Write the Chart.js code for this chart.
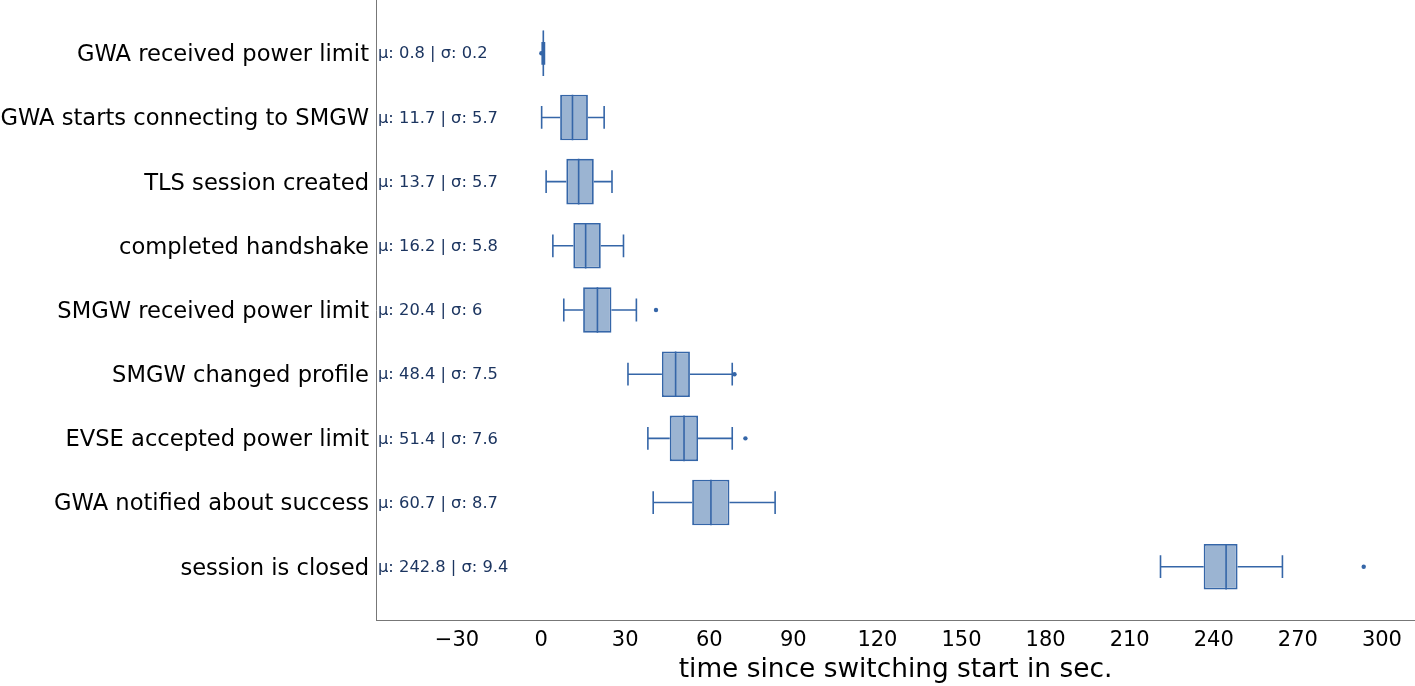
<!DOCTYPE html>
<html>
<head>
<meta charset="utf-8">
<script src="https://cdn.jsdelivr.net/npm/chart.js@4"></script>
<style>
  body { margin: 0; background: #fff; }
</style>
</head>
<body>
<canvas id="boxes" width="1415" height="686"></canvas>
<script>
// step names, top to bottom
const steps = [
  'GWA received power limit',
  'GWA starts connecting to SMGW',
  'TLS session created',
  'completed handshake',
  'SMGW received power limit',
  'SMGW changed profile',
  'EVSE accepted power limit',
  'GWA notified about success',
  'session is closed'
];
// box plot numbers (seconds)
const whiskerLow  = [0.4, 0.2, 1.8, 4.2, 8.1, 31.0, 38.1, 40.0, 221.0];
const q1          = [0.6, 6.8, 9.0, 11.5, 15.0, 43.1, 45.9, 53.9, 236.4];
const median      = [0.8, 11.2, 13.4, 15.9, 20.1, 48.0, 51.0, 60.6, 244.4];
const q3          = [1.0, 16.7, 18.8, 21.3, 25.1, 53.1, 56.0, 67.2, 248.5];
const whiskerHigh = [1.2, 22.5, 25.3, 29.4, 34.0, 68.2, 68.2, 83.5, 264.5];
const outliers    = [[0.1], [], [], [], [41.0], [69.0], [72.9], [], [293.5]];
const means       = [0.8, 11.7, 13.7, 16.2, 20.4, 48.4, 51.4, 60.7, 242.8];
const sigmas      = [0.2, 5.7, 5.7, 5.8, 6, 7.5, 7.6, 8.7, 9.4];
const xTicks      = [-30, 0, 30, 60, 90, 120, 150, 180, 210, 240, 270, 300];

const edge = '#3566a8';
const font = 'DejaVu Sans';

// whiskers, caps, medians, outliers and the μ/σ notes
const boxExtras = {
  id: 'boxExtras',
  afterDatasetsDraw(chart) {
    const ctx = chart.ctx;
    const xs = chart.scales.x, ys = chart.scales.y;
    const area = chart.chartArea;
    const half = (ys.getPixelForValue(1.355) - ys.getPixelForValue(1)); // box half height
    const cap = half / 2;
    ctx.save();
    ctx.strokeStyle = edge;
    ctx.fillStyle = edge;
    ctx.lineWidth = 1.6;
    steps.forEach((s, i) => {
      const y = ys.getPixelForValue(i + 1);
      const xl = xs.getPixelForValue(whiskerLow[i]);
      const x1 = xs.getPixelForValue(q1[i]);
      const x3 = xs.getPixelForValue(q3[i]);
      const xh = xs.getPixelForValue(whiskerHigh[i]);
      const xm = xs.getPixelForValue(median[i]);
      ctx.beginPath();
      ctx.moveTo(xl, y); ctx.lineTo(x1, y);
      ctx.moveTo(x3, y); ctx.lineTo(xh, y);
      ctx.moveTo(xl, y - cap); ctx.lineTo(xl, y + cap);
      ctx.moveTo(xh, y - cap); ctx.lineTo(xh, y + cap);
      ctx.moveTo(xm, y - half); ctx.lineTo(xm, y + half);
      ctx.stroke();
      outliers[i].forEach(v => {
        ctx.beginPath();
        ctx.arc(xs.getPixelForValue(v), y, 2.2, 0, Math.PI * 2);
        ctx.fill();
      });
    });
    ctx.fillStyle = '#1c3560';
    ctx.font = '16.3px "' + font + '"';
    ctx.textAlign = 'left';
    ctx.textBaseline = 'middle';
    steps.forEach((s, i) => {
      const y = ys.getPixelForValue(i + 1);
      ctx.fillText('μ: ' + means[i] + ' | σ: ' + sigmas[i], area.left + 2, y + 1);
    });
    ctx.restore();
  }
};

new Chart(document.getElementById('boxes'), {
  type: 'bar',
  data: {
    datasets: [{
      data: steps.map((s, i) => ({ x: [q1[i], q3[i]], y: i + 1 })),
      backgroundColor: '#9bb4d2',
      borderColor: edge,
      borderWidth: 1.8,
      borderSkipped: false,
      barPercentage: 0.71,
      categoryPercentage: 1
    }]
  },
  options: {
    indexAxis: 'y',
    responsive: false,
    animation: false,
    layout: { padding: 0 },
    plugins: { legend: { display: false }, tooltip: { enabled: false } },
    scales: {
      x: {
        type: 'linear',
        min: -58.9,
        max: 311.8,
        afterBuildTicks: sc => { sc.ticks = xTicks.map(v => ({ value: v })); },
        afterFit: sc => { sc.height = 66; sc.paddingLeft = 0; sc.paddingRight = 0; },
        grid: { display: false, drawTicks: false },
        border: { color: '#777', width: 1 },
        ticks: {
          color: '#000',
          padding: 8,
          maxRotation: 0,
          font: { family: font, size: 21 },
          callback: v => v < 0 ? '\u2212' + Math.abs(v) : String(v)
        },
        title: {
          display: true,
          text: 'time since switching start in sec.',
          color: '#000',
          padding: { top: 1, bottom: 0 },
          font: { family: font, size: 26.4 }
        }
      },
      y: {
        type: 'linear',
        reverse: true,
        offset: false,
        min: 0.17,
        max: 9.83,
        afterBuildTicks: sc => { sc.ticks = steps.map((s, i) => ({ value: i + 1 })); },
        afterFit: sc => { sc.width = 376; sc.paddingTop = 0; sc.paddingBottom = 0; },
        grid: { display: false, drawOnChartArea: false, drawTicks: true, tickLength: 5, tickColor: '#999' },
        border: { color: '#777', width: 1 },
        ticks: {
          color: '#000',
          padding: 2,
          labelOffset: 2,
          font: { family: font, size: 22.6 },
          callback: v => steps[Math.round(v) - 1] || ''
        }
      }
    }
  },
  plugins: [boxExtras]
});
</script>
</body>
</html>
